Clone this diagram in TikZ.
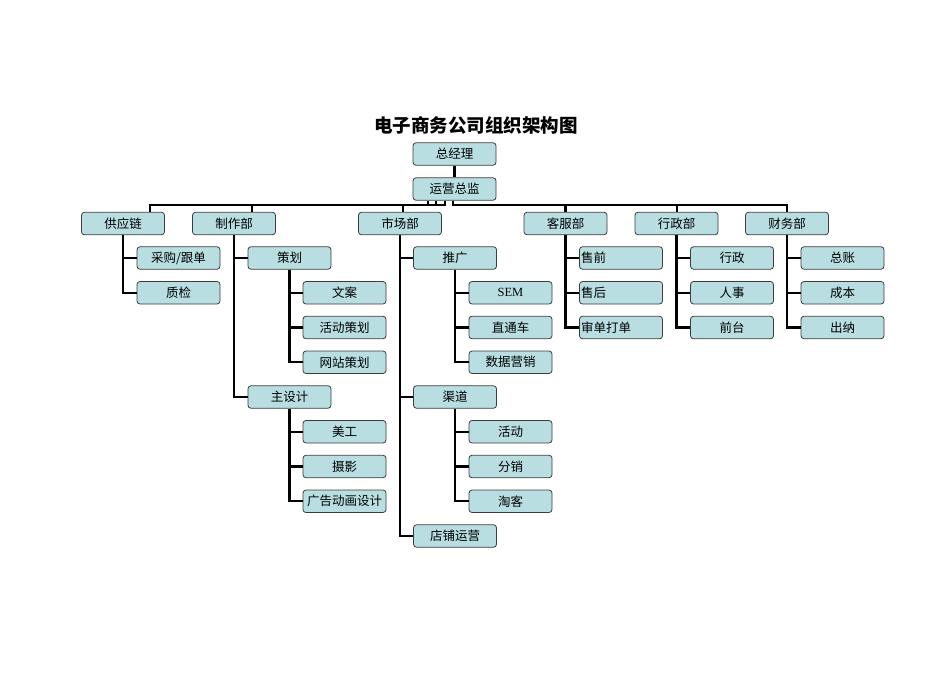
\documentclass[tikz,border=0pt]{standalone}
\usepackage{fontspec}
\setmainfont{Noto Sans CJK SC}
\newfontfamily\latinfont{Liberation Serif}
\definecolor{boxfill}{RGB}{184,222,225}
\definecolor{boxline}{RGB}{60,60,60}
\begin{document}
\begin{tikzpicture}[x=1pt,y=-1pt,
  box/.style={draw=boxline,line width=0.8pt,fill=boxfill,rounded corners=3pt,
    minimum width=83pt,minimum height=22.5pt,inner sep=0pt,
    font=\fontsize{12.5}{14}\selectfont},
  lbox/.style={box,text width=80pt,align=left},
  conn/.style={line width=2.2pt,black}]
\useasboundingbox (0,0) rectangle (950,672);
\node[font=\fontsize{18.5}{20}\selectfont\bfseries] (title) at (476,125) {电子商务公司组织架构图};
% top
\node[box] (ceo) at (454.5,154) {总经理};
\node[box] (ops) at (454.5,189) {运营总监};
% departments
\node[box] (sup) at (123,223.5) {供应链};
\node[box] (mak) at (234,223.5) {制作部};
\node[box] (mkt) at (400,223.5) {市场部};
\node[box] (cs) at (565.5,223.5) {客服部};
\node[box] (adm) at (676.5,223.5) {行政部};
\node[box] (fin) at (787,223.5) {财务部};
% rows
\def\rA{258}\def\rB{292.75}\def\rC{327.5}\def\rD{362.25}\def\rE{397}
\def\rF{431.75}\def\rG{466.5}\def\rH{501.25}\def\rI{536}
\node[box] (cg) at (178.5,\rA) {采购/跟单};
\node[box] (zj) at (178.5,\rB) {质检};
\node[box] (ch) at (289.5,\rA) {策划};
\node[box] (zsj) at (289.5,\rE) {主设计};
\node[box] (wa) at (344.5,\rB) {文案};
\node[box] (hdch) at (344.5,\rC) {活动策划};
\node[box] (wzch) at (344.5,\rD) {网站策划};
\node[box] (mg) at (344.5,\rF) {美工};
\node[box] (sy) at (344.5,\rG) {摄影};
\node[box] (gg) at (344.5,\rH) {广告动画设计};
\node[box] (tg) at (455,\rA) {推广};
\node[box] (qd) at (455,\rE) {渠道};
\node[box] (dp) at (455,\rI) {店铺运营};
\node[box] (sem) at (510.5,\rB) {\latinfont SEM};
\node[box] (ztc) at (510.5,\rC) {直通车};
\node[box] (sjyx) at (510.5,\rD) {数据营销};
\node[box] (hd) at (510.5,\rF) {活动};
\node[box] (fx) at (510.5,\rG) {分销};
\node[box] (tk) at (510.5,\rH) {淘客};
\node[lbox] (sq) at (621,\rA) {售前};
\node[lbox] (sh) at (621,\rB) {售后};
\node[lbox] (sd) at (621,\rC) {审单打单};
\node[box] (xz) at (732,\rA) {行政};
\node[box] (rs) at (732,\rB) {人事};
\node[box] (qt) at (732,\rC) {前台};
\node[box] (zz) at (842.5,\rA) {总账};
\node[box] (cb) at (842.5,\rB) {成本};
\node[box] (cn) at (842.5,\rC) {出纳};
% connectors
\draw[conn] (ceo.south) -- (ops.north);
\draw[conn] ([xshift=-26.5pt]ops.south) -- ++(0,4) -| ([xshift=27pt]sup.north);
\draw[conn] ([xshift=-18.5pt]ops.south) -- ++(0,4) -| ([xshift=17.7pt]mak.north);
\draw[conn] ([xshift=-9.5pt]ops.south) -- ++(0,4) -| ([xshift=3pt]mkt.north);
\draw[conn] ([xshift=-1.5pt]ops.south) -- ++(0,4) -| (cs.north);
\draw[conn] ([xshift=-1.5pt]ops.south) -- ++(0,4) -| ([xshift=0.2pt]adm.north);
\draw[conn] ([xshift=-1.5pt]ops.south) -- ++(0,4) -| (fin.north);
\foreach \p/\c in {sup/cg,sup/zj,mak/ch,mak/zsj,ch/wa,ch/hdch,ch/wzch,zsj/mg,zsj/sy,zsj/gg,
  mkt/tg,mkt/qd,mkt/dp,tg/sem,tg/ztc,tg/sjyx,qd/hd,qd/fx,qd/tk,
  cs/sq,cs/sh,cs/sd,adm/xz,adm/rs,adm/qt,fin/zz,fin/cb,fin/cn}
  \draw[conn] (\p.south) |- (\c.west);
\end{tikzpicture}
\end{document}
